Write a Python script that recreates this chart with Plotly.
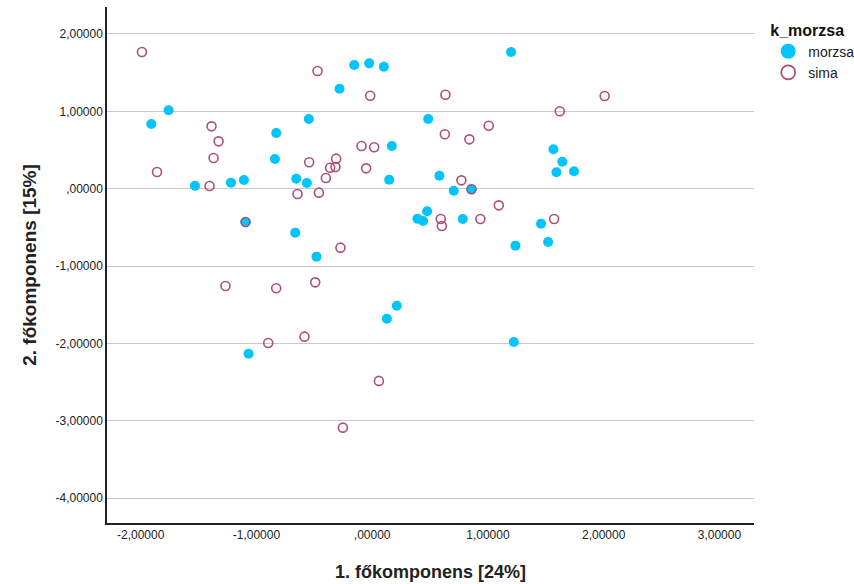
import plotly.graph_objects as go

# Data
morzsa_x = [-1.908, -1.759, -1.531, -1.220, -1.108, -0.829, -0.840, -0.547, -0.656, -0.564,
            -0.282, -0.155, -0.026, 0.101, 0.484, 0.170, 0.147, 0.581, 0.705, 0.858,
            1.200, 1.566, 1.643, 1.592, 1.744, -1.094, -0.665, -0.481, -1.068,
            0.391, 0.440, 0.475, 0.783, 1.459, 1.238, 1.520, 0.213, 0.127, 1.224]
morzsa_y = [0.836, 1.013, 0.039, 0.078, 0.112, 0.720, 0.384, 0.900, 0.129, 0.074,
            1.292, 1.598, 1.620, 1.576, 0.900, 0.552, 0.116, 0.168, -0.026, -0.008,
            1.766, 0.509, 0.349, 0.212, 0.225, -0.430, -0.568, -0.878, -2.132,
            -0.388, -0.417, -0.292, -0.391, -0.452, -0.736, -0.689, -1.512, -1.680, -1.981]

sima_x = [-1.989, -0.472, -1.388, -1.327, -1.370, -0.544, -1.859, -1.405, -0.645, -0.460,
          -0.400, -0.363, -0.317, -0.311, -0.017, 0.633, 1.621, 1.007, 0.628, 0.840,
          -0.092, 0.017, -0.052, 0.771, 0.858, 1.094, 2.009, -1.094, -0.274, -1.267,
          -0.829, -0.492, -0.898, -0.585, 0.593, 0.602, 0.935, 1.572, 0.058, -0.253]
sima_y = [1.766, 1.520, 0.806, 0.612, 0.397, 0.341, 0.216, 0.035, -0.068, -0.051,
          0.138, 0.271, 0.280, 0.388, 1.202, 1.215, 1.000, 0.814, 0.703, 0.638,
          0.552, 0.535, 0.263, 0.108, -0.008, -0.215, 1.198, -0.430, -0.762, -1.257,
          -1.287, -1.210, -1.994, -1.912, -0.391, -0.482, -0.391, -0.391, -2.484, -3.088]

x_ticks = [-2, -1, 0, 1, 2, 3]
x_tick_text = ["-2,00000", "-1,00000", ",00000", "1,00000", "2,00000", "3,00000"]
y_ticks = [2, 1, 0, -1, -2, -3, -4]
y_tick_text = ["2,00000", "1,00000", ",00000", "-1,00000", "-2,00000", "-3,00000", "-4,00000"]

CYAN = "#00C5FA"
SIMA = "#AD4F78"

fig = go.Figure()
fig.add_trace(go.Scatter(
    x=morzsa_x, y=morzsa_y, mode="markers", name="morzsa", showlegend=False,
    marker=dict(size=10, color=CYAN, line=dict(width=0)),
))
fig.add_trace(go.Scatter(
    x=sima_x, y=sima_y, mode="markers", name="sima", showlegend=False,
    marker=dict(size=9, symbol="circle-open", color=SIMA, line=dict(width=1.6, color=SIMA)),
))
# legend entries with larger symbols, as in the reference
fig.add_trace(go.Scatter(
    x=[None], y=[None], mode="markers", name="morzsa",
    marker=dict(size=15, color=CYAN, line=dict(width=0)),
))
fig.add_trace(go.Scatter(
    x=[None], y=[None], mode="markers", name="sima",
    marker=dict(size=14, symbol="circle-open", color=SIMA, line=dict(width=1.8, color=SIMA)),
))

font_family = "Liberation Sans, Arial, sans-serif"

fig.update_layout(
    width=854, height=584,
    margin=dict(l=107, r=100, t=7, b=61, autoexpand=False),
    paper_bgcolor="white", plot_bgcolor="white",
    font=dict(family=font_family, color="#222222"),
    showlegend=True,
    legend=dict(
        title=dict(text="<b>k_morzsa</b>", font=dict(size=16, color="#111111")),
        x=1.022, y=0.985, xanchor="left", yanchor="top",
        font=dict(size=14, color="#222222"),
        itemsizing="trace",
        tracegroupgap=0,
        bgcolor="rgba(0,0,0,0)",
    ),
    xaxis=dict(
        range=[-2.291, 3.299], tickvals=x_ticks, ticktext=x_tick_text,
        showgrid=False, zeroline=False,
        showline=True, linecolor="#222222", linewidth=1.5,
        ticks="", tickfont=dict(size=12, color="#222222"),
        title=dict(text="<b>1. főkomponens [24%]</b>", font=dict(size=18, color="#222222"), standoff=24),
    ),
    yaxis=dict(
        range=[-4.32, 2.348], tickvals=y_ticks, ticktext=y_tick_text,
        showgrid=True, gridcolor="#C8C8C8", gridwidth=1.3, zeroline=False,
        showline=True, linecolor="#222222", linewidth=1.5,
        ticks="", tickfont=dict(size=12, color="#222222"),
        title=dict(text="<b>2. főkomponens [15%]</b>", font=dict(size=19, color="#222222"), standoff=14),
    ),
)

fig.write_html("out.html")
